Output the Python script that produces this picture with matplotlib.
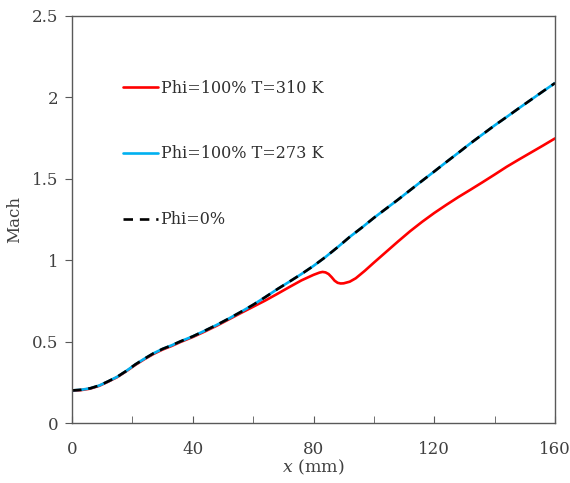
import matplotlib
matplotlib.use("Agg")
import matplotlib.pyplot as plt
from matplotlib.ticker import MultipleLocator

# Phi=100% T=273 K and Phi=0% (nearly identical)
x_base = [0, 3, 6, 9, 12, 15, 18, 21, 24, 27, 30, 33, 36, 40, 44, 48, 52, 56, 60,
          64, 68, 72, 76, 80, 84, 88, 92, 96, 100, 104, 108, 112, 116, 120, 124,
          128, 132, 136, 140, 144, 148, 152, 156, 160]
mach_273 = [0.200, 0.204, 0.213, 0.230, 0.256, 0.284, 0.320, 0.360, 0.395, 0.428,
            0.455, 0.477, 0.502, 0.532, 0.567, 0.603, 0.642, 0.683, 0.726, 0.773,
            0.822, 0.868, 0.915, 0.965, 1.020, 1.080, 1.143, 1.200, 1.260, 1.316,
            1.372, 1.430, 1.488, 1.545, 1.603, 1.660, 1.718, 1.773, 1.828, 1.880,
            1.933, 1.985, 2.037, 2.088]
mach_phi0 = [0.200, 0.204, 0.213, 0.230, 0.256, 0.284, 0.320, 0.360, 0.395, 0.428,
             0.455, 0.477, 0.502, 0.532, 0.567, 0.603, 0.642, 0.683, 0.726, 0.773,
             0.822, 0.868, 0.915, 0.965, 1.020, 1.080, 1.143, 1.200, 1.260, 1.316,
             1.372, 1.430, 1.488, 1.545, 1.603, 1.660, 1.718, 1.773, 1.828, 1.880,
             1.933, 1.985, 2.037, 2.088]

# Phi=100% T=310 K
x_310 = [0, 3, 6, 9, 12, 15, 18, 21, 24, 27, 30, 33, 36, 40, 44, 48, 52, 56, 60,
         64, 68, 72, 76, 80, 82, 83, 84, 85, 86, 87, 88, 89, 90, 92, 94, 97, 100,
         104, 108, 112, 116, 120, 124, 128, 132, 136, 140, 144, 148, 152, 156, 160]
mach_310 = [0.198, 0.202, 0.211, 0.228, 0.254, 0.282, 0.318, 0.357, 0.392, 0.424,
            0.451, 0.473, 0.498, 0.528, 0.562, 0.598, 0.637, 0.676, 0.714, 0.752,
            0.793, 0.835, 0.876, 0.910, 0.924, 0.928, 0.925, 0.915, 0.896, 0.874,
            0.861, 0.857, 0.858, 0.868, 0.889, 0.935, 0.985, 1.050, 1.115, 1.178,
            1.236, 1.290, 1.340, 1.388, 1.433, 1.479, 1.526, 1.574, 1.618, 1.661,
            1.704, 1.748]

labels = ["Phi=100% T=310 K", "Phi=100% T=273 K", "Phi=0%"]

plt.rcParams['font.family'] = ['DejaVu Serif']
plt.rcParams['mathtext.fontset'] = 'dejavuserif'

fig = plt.figure(figsize=(5.7, 4.83), dpi=100)
ax = fig.add_axes([72/570, (483-423)/483, (555-72)/570, (423-16)/483])

ax.plot(x_310, mach_310, color='#FF0000', lw=1.9, label=labels[0], solid_capstyle='round')
ax.plot(x_base, mach_273, color='#00B0F0', lw=1.9, label=labels[1], solid_capstyle='round')
ax.plot(x_base, mach_phi0, color='black', lw=1.9, dashes=(3.6, 2.6), label=labels[2])

ax.set_xlim(0, 160)
ax.set_ylim(0, 2.5)
ax.xaxis.set_major_locator(MultipleLocator(40))
ax.xaxis.set_minor_locator(MultipleLocator(20))
ax.set_yticks([0, 0.5, 1, 1.5, 2, 2.5])
ax.set_yticklabels(['0', '0.5', '1', '1.5', '2', '2.5'])

spine_col = '#595959'
for s in ax.spines.values():
    s.set_color(spine_col)
    s.set_linewidth(1.0)
ax.tick_params(axis='x', which='both', direction='in', length=5, color=spine_col,
               labelsize=12, labelcolor='#404040', pad=13)
ax.tick_params(axis='y', which='both', direction='out', length=5, color=spine_col,
               labelsize=12, labelcolor='#404040', pad=5)

ax.set_xlabel('$x$ (mm)', fontsize=12.5, color='#404040', labelpad=0)
ax.set_ylabel('Mach', fontsize=12, color='#404040')
ax.yaxis.set_label_coords(-0.101, 0.5)

leg = ax.legend(loc='upper left', bbox_to_anchor=(0.0917, 0.859), frameon=False,
                fontsize=11.5, handlelength=2.22, handletextpad=0.15,
                labelspacing=3.05, borderaxespad=0)
for t in leg.get_texts():
    t.set_color('#303030')

fig.savefig('out.png', dpi=100)
